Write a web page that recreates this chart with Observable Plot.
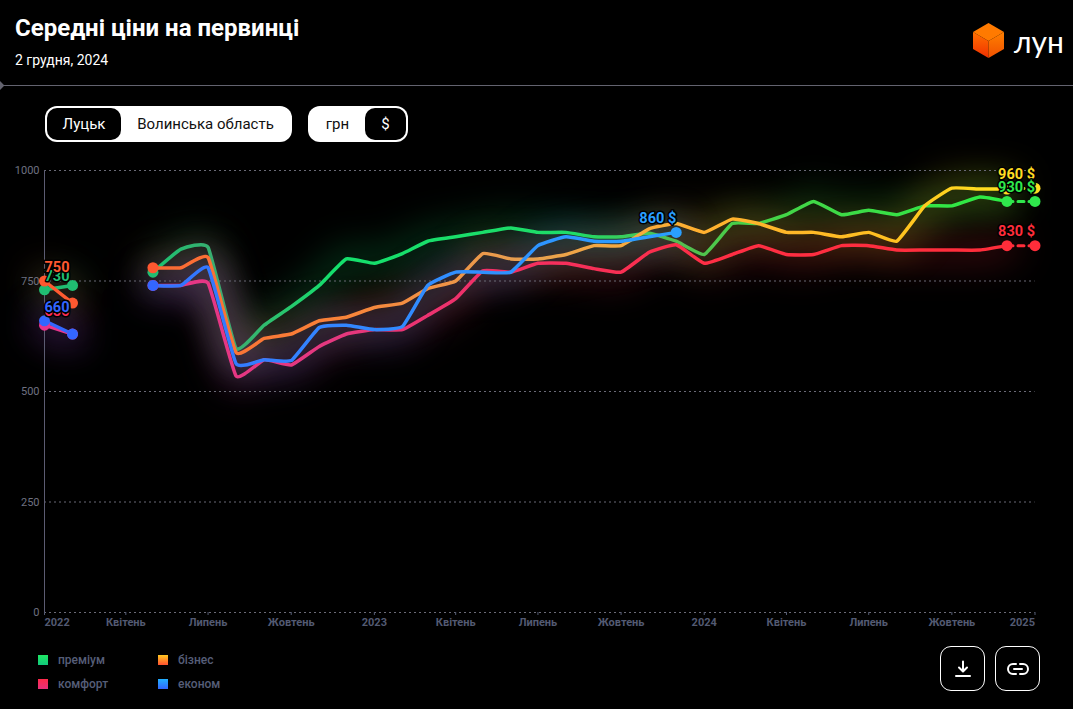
<!DOCTYPE html>
<html lang="uk">
<head>
<meta charset="utf-8">
<script src="https://cdn.jsdelivr.net/npm/d3@7"></script>
<script src="https://cdn.jsdelivr.net/npm/@observablehq/plot@0.6"></script>
<style>
  html,body{margin:0;padding:0;background:#000;width:1073px;height:709px;overflow:hidden;font-family:Roboto,sans-serif;color:#fff}
  .abs{position:absolute}
  #title{left:15px;top:14px;font-size:24px;font-weight:700;line-height:28px}
  #sub{left:15px;top:51px;font-size:14px;font-weight:400;line-height:18px}
  #sep{left:0;top:85px;width:1073px;height:1px;background:#63636f}
  #dia{left:-4px;top:82px;width:7px;height:7px;background:#63636f;transform:rotate(45deg)}
  .pill{position:absolute;top:106px;height:36px;background:#fff;border-radius:12px;box-sizing:border-box;color:#111;font-size:15px;line-height:36px}
  .pill .on{position:absolute;top:2px;height:32px;line-height:32px;background:#000;color:#fff;border-radius:10px;text-align:center;font-weight:400}
  .pill .off{position:absolute;top:0;text-align:center}
  #chart{left:0;top:150px}
  #chart svg{overflow:visible;display:block}
  .lg{position:absolute;font-size:12px;font-weight:500;color:#565e78;line-height:14px}
  .sw{position:absolute;width:10px;height:10px}
  .btn{position:absolute;top:646px;width:45px;height:45px;border:1px solid #fff;border-radius:11px;box-sizing:border-box;display:flex;align-items:center;justify-content:center}
</style>
</head>
<body>
<div class="abs" id="title">Середні ціни на первинці</div>
<div class="abs" id="sub">2 грудня, 2024</div>
<div class="abs" id="sep"></div><div class="abs" id="dia"></div>

<svg class="abs" style="left:973px;top:23px" width="32" height="35" viewBox="0 0 32 35">
  <defs>
    <linearGradient id="cL" x1="0" y1="0" x2="0" y2="1"><stop offset="0" stop-color="#ff7000"/><stop offset="1" stop-color="#f03000"/></linearGradient>
    <linearGradient id="cR" x1="0" y1="0" x2="0" y2="1"><stop offset="0" stop-color="#ff8000"/><stop offset="1" stop-color="#f05000"/></linearGradient>
  </defs>
  <polygon points="15.5,0 31,9 15.5,18 0,9" fill="#ff7a00"/>
  <polygon points="0,9 15.5,18 15.5,35 0,26" fill="url(#cL)"/>
  <polygon points="31,9 15.5,18 15.5,35 31,26" fill="url(#cR)"/>
</svg>
<div class="abs" style="left:1014px;top:23px;font-family:Lato,sans-serif;font-size:30px;line-height:36px;font-weight:400">лун</div>

<div class="pill" style="left:45px;width:247px">
  <div class="on" style="left:2px;width:74px">Луцьк</div>
  <div class="off" style="left:75px;width:171px">Волинська область</div>
</div>
<div class="pill" style="left:308px;width:100px">
  <div class="off" style="left:0;width:59px">грн</div>
  <div class="on" style="left:57px;width:41px">$</div>
</div>

<div class="abs" id="chart"></div>

<div id="legend"></div>

<div class="btn" style="left:940px">
  <svg width="18" height="18" viewBox="0 0 18 18" fill="none" stroke="#fff" stroke-width="2" stroke-linecap="round" stroke-linejoin="round"><path d="M9 1.5V11M5 7.5L9 11.5L13 7.5M2 16H16"/></svg>
</div>
<div class="btn" style="left:995px">
  <svg width="22" height="14" viewBox="0 0 22 14" fill="none" stroke="#fff" stroke-width="2" stroke-linecap="round"><path d="M9 2H6a5 5 0 0 0 0 10h3M13 2h3a5 5 0 0 1 0 10h-3M7 7H15"/></svg>
</div>

<script>
const months = d3.timeMonth.range(new Date(2022,0,1), new Date(2025,0,1));
const nextYear = new Date(2025,0,1);

const premium = [730,740,null,null,770,822,826,597,650,692,740,800,
                 790,812,840,850,860,870,860,860,850,850,858,840,
                 810,880,880,900,930,900,910,900,920,920,940,930];
const business = [750,700,null,null,780,780,803,588,620,630,660,668,
                  690,700,733,750,812,800,800,810,830,830,868,880,
                  860,890,880,860,860,850,860,840,920,960,958,958];
const comfort = [650,630,null,null,740,740,745,535,572,560,602,630,
                 640,640,672,710,773,770,790,790,778,770,815,832,
                 790,810,830,810,810,830,830,820,820,820,820,830];
const econom = [660,630,null,null,740,740,780,563,572,570,645,650,
                640,647,740,770,770,770,830,850,840,840,850,860];

const seriesNames = ["преміум","комфорт","бізнес","економ"];
const seriesValues = [premium, comfort, business, econom];
const forecast = {"преміум":930,"комфорт":830,"бізнес":960};

const gradientStops = {
  "преміум":[[0,"#20bd72"],[.12,"#1fc070"],[.19,"#3fa870"],[.3,"#14e06c"],[.55,"#1fdc68"],[.66,"#55bc50"],[.72,"#48d048"],[1,"#2cec44"]],
  "комфорт":[[0,"#e8348c"],[.3,"#e4387f"],[.45,"#f03068"],[.7,"#ff2e44"],[1,"#ff2d3a"]],
  "бізнес":[[0,"#ff5830"],[.3,"#f98238"],[.5,"#e8a050"],[.68,"#ffb030"],[.88,"#ffc020"],[1,"#ffe420"]],
  "економ":[[0,"#3366ff"],[.45,"#3385ff"],[1,"#2a9fff"]]
};
const dotColors = {
  left:{"преміум":"#20bd72","комфорт":"#e8348c","бізнес":"#ff5830","економ":"#3366ff"},
  right:{"преміум":"#2fe84c","комфорт":"#ff2d3a","бізнес":"#ffdc22","економ":"#2a9fff"}
};
const legendColors = {"преміум":["#1fe864","#12c87c"],"комфорт":["#ff2a4a","#e8307c"],"бізнес":["#ffc820","#ff5030"],"економ":["#22b0ff","#3366ff"]};
const gradId = n => "grad" + seriesNames.indexOf(n);

// gradients
const defsSvg = d3.select("body").append("svg").attr("width",0).attr("height",0).style("position","absolute");
const defs = defsSvg.append("defs");
seriesNames.forEach(n=>{
  const g = defs.append("linearGradient").attr("id",gradId(n)).attr("x1",0).attr("y1",0).attr("x2",1).attr("y2",0);
  gradientStops[n].forEach(([o,c])=>g.append("stop").attr("offset",o).attr("stop-color",c));
});

// tables
const rows = n => seriesValues[seriesNames.indexOf(n)].map((v,i)=>({date:months[i],value:v}));
const dots = [];
const leftLabels = [];
seriesNames.forEach(n=>{
  const r = rows(n);
  [0,1,4].forEach(i=>dots.push({date:r[i].date,value:r[i].value,color:dotColors.left[n]}));
  const last = r[r.length-1];
  dots.push({date:last.date,value:last.value,color:dotColors.right[n]});
  if (forecast[n]) dots.push({date:nextYear,value:forecast[n],color:dotColors.right[n]});
  leftLabels.push({date:r[0].date,value:r[0].value,text:String(r[0].value),color:n==="комфорт"?"#ff2d55":dotColors.left[n]});
});
const rightLabels = [
  {date:nextYear,value:830,text:"830 $",color:dotColors.right["комфорт"]},
  {date:nextYear,value:960,text:"960 $",color:dotColors.right["бізнес"]},
  {date:nextYear,value:930,text:"930 $",color:dotColors.right["преміум"]},
  {date:months[23],value:860,text:"860 $",color:dotColors.right["економ"]}
];

const blur = px => (index,scales,values,dims,ctx,next)=>{
  const g = next(index,scales,values,dims,ctx);
  g.style.filter = `blur(${px}px)`;
  return g;
};
const commonLine = {x:"date",y:"value",curve:"cardinal",tension:0.62,strokeLinecap:"round",strokeLinejoin:"round"};

const axisStyle = {fontFamily:"Roboto",fontSize:11,fontWeight:700,fill:"#535a72",stroke:"#535a72",tickSize:3,tickPadding:3,label:null};
const midTicks = [[2022,3],[2022,6],[2022,9],[2023,0],[2023,3],[2023,6],[2023,9],[2024,0],[2024,3],[2024,6],[2024,9]].map(([y,m])=>new Date(y,m,1));
const midNames = ["Квітень","Липень","Жовтень","2023","Квітень","Липень","Жовтень","2024","Квітень","Липень","Жовтень"];

const chart = Plot.plot({
  width:1073, height:490,
  marginTop:20, marginBottom:28, marginLeft:44, marginRight:38.5,
  style:{background:"transparent",overflow:"visible"},
  x:{type:"time",domain:[new Date(2022,0,1),nextYear]},
  y:{domain:[0,1000]},
  marks:[
    seriesNames.map(n=>Plot.line(rows(n),{...commonLine,stroke:`url(#${gradId(n)})`,strokeWidth:24,strokeOpacity:.24,render:blur(18)})),
    Plot.ruleY([0,250,500,750,1000],{stroke:"#6a6a76",strokeWidth:1,strokeDasharray:"2,3"}),
    Plot.ruleX([months[0]],{stroke:"#5c5c72",strokeWidth:1}),
    Plot.axisY({ticks:[0,250,500,750,1000],tickFormat:d=>String(d),tickSize:0,tickPadding:5,fontFamily:"Roboto",fontSize:11,fill:"#6e7180",label:null}),
    Plot.axisX({...axisStyle,ticks:midTicks,tickFormat:d=>midNames[midTicks.findIndex(t=>+t===+d)]}),
    Plot.axisX({...axisStyle,ticks:[months[0]],tickFormat:()=>"2022",textAnchor:"start"}),
    Plot.axisX({...axisStyle,ticks:[nextYear],tickFormat:()=>"2025",textAnchor:"end"}),
    seriesNames.filter(n=>forecast[n]).map(n=>Plot.line(
      [{date:months[35],value:seriesValues[seriesNames.indexOf(n)][35]},{date:nextYear,value:forecast[n]}],
      {x:"date",y:"value",stroke:dotColors.right[n],strokeWidth:3,strokeDasharray:"6,5"})),
    seriesNames.map(n=>Plot.line(rows(n),{...commonLine,stroke:`url(#${gradId(n)})`,strokeWidth:3.5})),
    Plot.dot(dots,{x:"date",y:"value",r:5.5,fill:d=>d.color,stroke:null}),
    Plot.text(leftLabels,{x:"date",y:"value",text:"text",fill:d=>d.color,textAnchor:"start",dy:-13.5,fontFamily:"Roboto",fontSize:14.5,fontWeight:700,stroke:"#000",strokeWidth:3}),
    Plot.text(rightLabels,{x:"date",y:"value",text:"text",fill:d=>d.color,textAnchor:"end",dy:-14,fontFamily:"Roboto",fontSize:14.5,fontWeight:700,stroke:"#000",strokeWidth:3})
  ]
});
document.getElementById("chart").appendChild(chart);

// legend
const legendCells = [["преміум",38,660],["бізнес",158,660],["комфорт",38,684],["економ",158,684]];
const lg = d3.select("#legend");
legendCells.forEach(([n,x,y])=>{
  const [a,b]=legendColors[n];
  lg.append("div").attr("class","sw").style("left",x+"px").style("top",(y-5)+"px").style("background",`linear-gradient(${a},${b})`);
  lg.append("div").attr("class","lg").style("left",(x+20)+"px").style("top",(y-7)+"px").text(n);
});
</script>
</body>
</html>
